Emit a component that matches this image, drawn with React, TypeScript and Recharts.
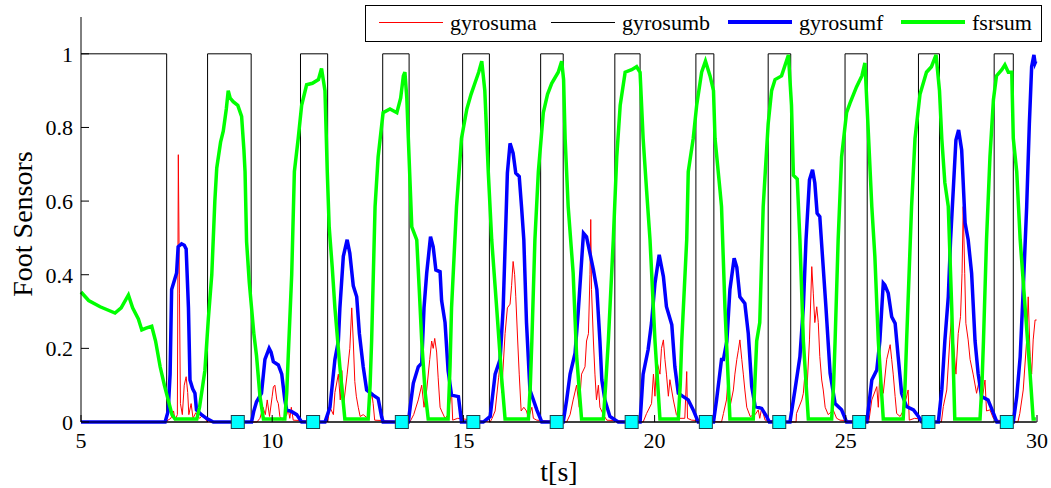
import React from "react";
import { ComposedChart, Line, Scatter, XAxis, YAxis, Legend } from "recharts";

const SERIF = '"Liberation Serif", "Times New Roman", serif';

const timeTicks = [5, 10, 15, 20, 25, 30];
const sensorTicks = [0, 0.2, 0.4, 0.6, 0.8, 1];

// [t, value] pairs
const gyrosuma: [number, number][] = [
  [5, 0], [7.2, 0], [7.35, 0.01], [7.42, 0.03], [7.46, 0.005], [7.52, 0.02], [7.545, 0.726], [7.575, 0.35], [7.6, 0.05],
  [7.65, 0.02], [7.7, 0.1], [7.75, 0.123], [7.79, 0.08], [7.82, 0.02], [7.88, 0.05], [7.93, 0.01], [8.0, 0.025], [8.1, 0.01],
  [8.2, 0.02], [8.3, 0],
  [9.6, 0], [9.68, 0.01], [9.76, 0.04], [9.82, 0.02], [9.87, 0.06], [9.93, 0.015], [10.0, 0.07], [10.03, 0.095], [10.07, 0.1],
  [10.12, 0.06], [10.16, 0.05], [10.2, 0.015], [10.28, 0.005], [10.38, 0.02], [10.42, 0.035], [10.46, 0.01], [10.5, 0.04],
  [10.55, 0.005], [11.45, 0],
  [11.51, 0.04], [11.6, 0.02], [11.64, 0.08], [11.73, 0.13], [11.78, 0.06], [11.82, 0.14], [11.87, 0.05], [11.96, 0.13],
  [12.03, 0.2], [12.08, 0.31], [12.12, 0.22], [12.16, 0.11], [12.2, 0.07], [12.25, 0.04], [12.3, 0.015], [12.38, 0.02],
  [12.5, 0.01], [12.6, 0.08], [12.64, 0.05], [12.68, 0.005], [13.6, 0],
  [13.7, 0.02], [13.82, 0.06], [13.91, 0.1], [13.97, 0.04], [14.04, 0.087], [14.12, 0.17], [14.17, 0.22], [14.21, 0.2],
  [14.25, 0.227], [14.3, 0.19], [14.34, 0.12], [14.39, 0.04], [14.43, 0.03], [14.52, 0.01], [14.6, 0.02], [14.69, 0.083],
  [14.72, 0.005], [14.85, 0.01], [15.7, 0],
  [15.75, 0.01], [15.83, 0.03], [15.92, 0.12], [15.96, 0.16], [16.0, 0.08], [16.09, 0.24], [16.15, 0.31], [16.22, 0.32],
  [16.26, 0.37], [16.3, 0.436], [16.34, 0.4], [16.37, 0.34], [16.42, 0.22], [16.46, 0.13], [16.51, 0.03], [16.58, 0.04],
  [16.65, 0.03], [16.7, 0.01], [16.79, 0.04], [16.83, 0.01], [16.92, 0.005], [17.7, 0],
  [17.79, 0.02], [17.87, 0.06], [17.96, 0.1], [18.03, 0.04], [18.09, 0.13], [18.18, 0.15], [18.22, 0.22], [18.27, 0.24],
  [18.31, 0.4], [18.33, 0.55], [18.35, 0.36], [18.4, 0.22], [18.44, 0.13], [18.48, 0.06], [18.53, 0.1], [18.57, 0.04],
  [18.66, 0.02], [18.75, 0.005], [19.7, 0],
  [19.79, 0.023], [19.92, 0.05], [19.97, 0.13], [20.01, 0.07], [20.05, 0.17], [20.14, 0.13], [20.18, 0.2], [20.23, 0.223],
  [20.27, 0.17], [20.31, 0.13], [20.36, 0.07], [20.4, 0.115], [20.49, 0.06], [20.57, 0.02], [20.66, 0.01], [20.79, 0.01],
  [20.84, 0.137], [20.86, 0.01], [20.97, 0.005], [21.75, 0],
  [21.8, 0.023], [21.88, 0.06], [21.93, 0.13], [21.97, 0.04], [22.06, 0.087], [22.1, 0.13], [22.15, 0.17], [22.19, 0.195],
  [22.23, 0.223], [22.28, 0.17], [22.32, 0.13], [22.36, 0.087], [22.41, 0.04], [22.5, 0.015], [22.63, 0.02], [22.71, 0.033],
  [22.75, 0.01], [22.8, 0.038], [22.89, 0.005], [23.7, 0],
  [23.71, 0.023], [23.85, 0.06], [23.89, 0.078], [23.93, 0.13], [23.99, 0.1], [24.05, 0.223], [24.11, 0.422], [24.15, 0.35],
  [24.19, 0.27], [24.24, 0.313], [24.28, 0.27], [24.32, 0.178], [24.37, 0.114], [24.41, 0.087], [24.46, 0.04], [24.54, 0.02],
  [24.67, 0.033], [24.76, 0.01], [24.85, 0.005], [25.6, 0],
  [25.68, 0.06], [25.81, 0.096], [25.85, 0.04], [25.89, 0.13], [25.98, 0.078], [26.07, 0.17], [26.16, 0.21], [26.2, 0.17],
  [26.24, 0.13], [26.29, 0.069], [26.33, 0.023], [26.42, 0.015], [26.5, 0.03], [26.63, 0.087], [26.66, 0.005], [26.8, 0.01],
  [27.5, 0],
  [27.55, 0.042], [27.64, 0.087], [27.72, 0.223], [27.77, 0.295], [27.81, 0.223], [27.88, 0.13], [27.94, 0.24], [28.0, 0.286],
  [28.04, 0.404], [28.07, 0.585], [28.11, 0.404], [28.14, 0.268], [28.2, 0.223], [28.25, 0.17], [28.33, 0.13], [28.42, 0.078],
  [28.51, 0.123], [28.55, 0.05], [28.64, 0.114], [28.68, 0.03], [28.77, 0.033], [28.86, 0.01], [28.95, 0.005], [29.5, 0],
  [29.55, 0.023], [29.64, 0.087], [29.73, 0.223], [29.77, 0.34], [29.82, 0.178], [29.86, 0.13], [29.9, 0.223], [29.95, 0.277],
  [29.99, 0.277],
];

const gyrosumb: [number, number][] = [
  [5, 1], [7.24, 1], [7.24, 0], [8.31, 0], [8.31, 1], [9.45, 1], [9.45, 0], [10.74, 0], [10.74, 1], [11.45, 1], [11.45, 0],
  [12.89, 0], [12.89, 1], [13.58, 1], [13.58, 0], [14.98, 0], [14.98, 1], [15.68, 1], [15.68, 0], [17.02, 0], [17.02, 1],
  [17.61, 1], [17.61, 0], [18.96, 0], [18.96, 1], [19.62, 1], [19.62, 0], [21.08, 0], [21.08, 1], [21.55, 1], [21.55, 0],
  [22.97, 0], [22.97, 1], [23.56, 1], [23.56, 0], [24.98, 0], [24.98, 1], [25.56, 1], [25.56, 0], [26.9, 0], [26.9, 1],
  [27.45, 1], [27.45, 0], [28.88, 0], [28.88, 1], [29.38, 1], [29.38, 0], [29.97, 0],
];

const gyrosumf: [number, number][] = [
  [5, 0], [7.2, 0], [7.28, 0.03], [7.33, 0.13], [7.37, 0.36], [7.5, 0.405], [7.54, 0.476], [7.63, 0.484], [7.7, 0.48],
  [7.75, 0.47], [7.81, 0.31], [7.85, 0.114], [7.92, 0.09], [7.98, 0.078], [8.02, 0.033], [8.15, 0.02], [8.28, 0.01],
  [8.46, 0], [9.46, 0], [9.52, 0.03], [9.59, 0.055], [9.72, 0.078], [9.81, 0.17], [9.92, 0.2], [9.97, 0.19], [10.03, 0.164],
  [10.16, 0.155], [10.25, 0.13], [10.33, 0.06], [10.38, 0.033], [10.51, 0.028], [10.64, 0.02], [10.77, 0], [11.38, 0],
  [11.51, 0.04], [11.64, 0.17], [11.73, 0.22], [11.77, 0.31], [11.86, 0.45], [11.96, 0.495], [12.03, 0.458], [12.12, 0.37],
  [12.21, 0.34], [12.28, 0.24], [12.38, 0.15], [12.47, 0.087], [12.64, 0.073], [12.77, 0.064], [12.86, 0.015], [12.9, 0],
  [13.56, 0], [13.62, 0.05], [13.69, 0.105], [13.82, 0.15], [13.91, 0.16], [13.97, 0.31], [14.04, 0.404], [14.14, 0.503],
  [14.21, 0.476], [14.28, 0.413], [14.39, 0.408], [14.43, 0.33], [14.52, 0.27], [14.6, 0.14], [14.69, 0.073], [14.87, 0.069],
  [14.95, 0], [15.52, 0], [15.7, 0.015], [15.83, 0.13], [15.96, 0.17], [16.04, 0.31], [16.11, 0.54], [16.15, 0.676],
  [16.22, 0.757], [16.3, 0.73], [16.37, 0.676], [16.46, 0.667], [16.52, 0.585], [16.58, 0.495], [16.65, 0.27], [16.74, 0.087],
  [16.83, 0.06], [16.92, 0.033], [17.05, 0], [17.61, 0], [17.7, 0.06], [17.79, 0.13], [17.92, 0.187], [18.0, 0.295],
  [18.07, 0.404], [18.14, 0.513], [18.22, 0.503], [18.31, 0.458], [18.4, 0.413], [18.49, 0.36], [18.57, 0.22], [18.62, 0.114],
  [18.7, 0.06], [18.83, 0.015], [19.05, 0], [19.62, 0], [19.7, 0.13], [19.83, 0.196], [19.92, 0.27], [20.01, 0.377],
  [20.12, 0.454], [20.23, 0.395], [20.31, 0.313], [20.45, 0.264], [20.53, 0.15], [20.62, 0.078], [20.75, 0.069], [20.88, 0.06],
  [21.01, 0.033], [21.14, 0], [21.54, 0], [21.62, 0.06], [21.75, 0.17], [21.8, 0.17], [21.89, 0.22], [21.97, 0.36],
  [22.08, 0.445], [22.15, 0.42], [22.23, 0.34], [22.36, 0.322], [22.45, 0.24], [22.54, 0.096], [22.63, 0.042], [22.8, 0.037],
  [22.93, 0.015], [23.0, 0], [23.54, 0], [23.67, 0.087], [23.8, 0.177], [23.89, 0.313], [23.96, 0.495], [24.05, 0.658],
  [24.13, 0.685], [24.19, 0.649], [24.25, 0.567], [24.32, 0.558], [24.39, 0.45], [24.48, 0.313], [24.59, 0.132], [24.72, 0.05],
  [24.89, 0.033], [25.02, 0], [25.55, 0], [25.68, 0.114], [25.81, 0.141], [25.89, 0.22], [25.98, 0.377], [26.02, 0.372],
  [26.11, 0.35], [26.2, 0.286], [26.29, 0.268], [26.37, 0.177], [26.46, 0.078], [26.59, 0.042], [26.77, 0.033], [26.9, 0.015],
  [26.99, 0], [27.42, 0], [27.51, 0.087], [27.59, 0.22], [27.68, 0.34], [27.74, 0.495], [27.81, 0.63], [27.88, 0.766],
  [27.95, 0.793], [28.03, 0.739], [28.12, 0.54], [28.2, 0.495], [28.29, 0.404], [28.38, 0.22], [28.46, 0.132], [28.55, 0.069],
  [28.72, 0.06], [28.86, 0.024], [28.95, 0], [29.38, 0], [29.47, 0.069], [29.56, 0.177], [29.64, 0.36], [29.73, 0.585],
  [29.8, 0.81], [29.86, 0.965], [29.92, 0.997], [29.95, 0.975], [29.97, 0.98],
];

const fsrsum: [number, number][] = [
  [5.0, 0.353], [5.2, 0.33], [5.5, 0.313], [5.89, 0.296], [6.05, 0.31], [6.24, 0.345], [6.35, 0.31], [6.5, 0.28], [6.59, 0.25],
  [6.7, 0.255], [6.85, 0.26], [6.95, 0.22], [7.07, 0.15], [7.18, 0.1], [7.28, 0.06], [7.38, 0.02], [7.46, 0.008], [8.03, 0.008],
  [8.1, 0.04], [8.24, 0.14], [8.33, 0.28], [8.42, 0.4], [8.5, 0.6], [8.55, 0.69], [8.65, 0.76], [8.72, 0.79], [8.8, 0.85],
  [8.85, 0.9], [8.9, 0.88], [8.98, 0.87], [9.1, 0.86], [9.2, 0.83], [9.26, 0.74], [9.29, 0.68], [9.33, 0.49], [9.4, 0.38],
  [9.46, 0.31], [9.52, 0.24], [9.59, 0.18], [9.68, 0.07], [9.77, 0.008], [10.33, 0.008], [10.38, 0.08], [10.42, 0.18],
  [10.51, 0.4], [10.58, 0.68], [10.68, 0.77], [10.77, 0.86], [10.9, 0.916], [11.05, 0.92], [11.21, 0.93], [11.29, 0.96],
  [11.38, 0.9], [11.44, 0.68], [11.49, 0.53], [11.57, 0.42], [11.64, 0.31], [11.77, 0.15], [11.9, 0.008], [12.51, 0.008],
  [12.56, 0.1], [12.6, 0.22], [12.69, 0.585], [12.77, 0.72], [12.9, 0.84], [13.08, 0.85], [13.26, 0.84], [13.36, 0.88],
  [13.43, 0.94], [13.47, 0.95], [13.52, 0.88], [13.56, 0.77], [13.65, 0.53], [13.78, 0.495], [13.85, 0.35], [13.91, 0.22],
  [14.0, 0.08], [14.08, 0.008], [14.6, 0.008], [14.65, 0.15], [14.69, 0.31], [14.82, 0.585], [14.95, 0.77], [15.09, 0.85],
  [15.2, 0.89], [15.3, 0.92], [15.4, 0.95], [15.48, 0.98], [15.56, 0.9], [15.65, 0.68], [15.74, 0.495], [15.87, 0.31],
  [16.0, 0.12], [16.09, 0.008], [16.7, 0.008], [16.75, 0.1], [16.79, 0.22], [16.87, 0.495], [16.96, 0.68], [17.09, 0.84],
  [17.2, 0.89], [17.31, 0.92], [17.48, 0.95], [17.57, 0.98], [17.62, 0.93], [17.66, 0.77], [17.74, 0.585], [17.87, 0.405],
  [17.96, 0.18], [18.09, 0.008], [18.66, 0.008], [18.72, 0.1], [18.79, 0.22], [18.92, 0.495], [19.01, 0.72], [19.1, 0.86],
  [19.23, 0.95], [19.4, 0.957], [19.53, 0.965], [19.62, 0.95], [19.7, 0.77], [19.79, 0.63], [19.88, 0.495], [20.01, 0.22],
  [20.14, 0.008], [20.62, 0.008], [20.67, 0.1], [20.71, 0.22], [20.84, 0.495], [20.88, 0.68], [21.01, 0.77], [21.1, 0.86],
  [21.23, 0.95], [21.33, 0.98], [21.45, 0.94], [21.54, 0.9], [21.58, 0.77], [21.71, 0.63], [21.75, 0.585], [21.84, 0.31],
  [21.97, 0.008], [22.58, 0.008], [22.62, 0.1], [22.67, 0.22], [22.75, 0.27], [22.84, 0.585], [22.97, 0.81], [23.06, 0.9],
  [23.15, 0.93], [23.32, 0.94], [23.5, 0.997], [23.58, 0.86], [23.63, 0.67], [23.73, 0.66], [23.8, 0.495], [23.89, 0.22],
  [24.02, 0.008], [24.63, 0.008], [24.68, 0.1], [24.72, 0.22], [24.8, 0.495], [24.89, 0.72], [25.02, 0.84], [25.11, 0.866],
  [25.28, 0.91], [25.42, 0.94], [25.5, 0.975], [25.59, 0.785], [25.68, 0.585], [25.76, 0.45], [25.85, 0.22], [25.98, 0.008],
  [26.5, 0.008], [26.55, 0.1], [26.59, 0.22], [26.72, 0.585], [26.81, 0.77], [26.94, 0.89], [27.11, 0.95], [27.24, 0.965],
  [27.36, 0.997], [27.45, 0.9], [27.51, 0.77], [27.59, 0.65], [27.68, 0.585], [27.77, 0.31], [27.85, 0.008], [28.51, 0.008],
  [28.56, 0.1], [28.6, 0.22], [28.68, 0.495], [28.77, 0.72], [28.86, 0.875], [28.94, 0.94], [29.08, 0.957], [29.16, 0.97],
  [29.25, 0.95], [29.34, 0.95], [29.38, 0.77], [29.47, 0.68], [29.56, 0.495], [29.69, 0.31], [29.82, 0.13], [29.9, 0.008],
  [29.97, 0.008],
];

// cyan step markers sitting on the time axis
const stepTimes = [9.1, 11.07, 13.39, 15.26, 17.44, 19.4, 21.34, 23.26, 25.35, 27.16, 29.21];

const toRows = (pts: [number, number][]) => pts.map(([t, v]) => ({ t, v }));

const legendItems = [
  { name: "gyrosuma", color: "#ff0000", w: 1, left: 13 },
  { name: "gyrosumb", color: "#000000", w: 1, left: 185 },
  { name: "gyrosumf", color: "#0000ff", w: 3.5, left: 362 },
  { name: "fsrsum", color: "#00ff00", w: 3.5, left: 535 },
];

const renderLegend = () => (
  <div
    style={{
      position: "relative",
      width: 675,
      height: 35,
      border: "1.5px solid #000",
      background: "#fff",
      fontFamily: SERIF,
      fontSize: 22,
      color: "#000",
    }}
  >
    {legendItems.map((it) => (
      <React.Fragment key={it.name}>
        <div
          style={{
            position: "absolute",
            left: it.left,
            top: 16 - it.w / 2,
            width: 64,
            height: it.w,
            background: it.color,
          }}
        />
        <span style={{ position: "absolute", left: it.left + 71, top: 6, lineHeight: "22px", whiteSpace: "nowrap" }}>
          {it.name}
        </span>
      </React.Fragment>
    ))}
  </div>
);

const YTitle = () => (
  <text
    x={32}
    y={224}
    transform="rotate(-90 32 224)"
    textAnchor="middle"
    fontFamily={SERIF}
    fontSize={28}
    fill="#000"
  >
    Foot Sensors
  </text>
);

const XTitle = () => (
  <text x={559} y={481} textAnchor="middle" fontFamily={SERIF} fontSize={28} fill="#000">
    t[s]
  </text>
);

const TimeTick = (props: any) => {
  const { x, y, payload } = props;
  return (
    <text x={x} y={y} dy="0.71em" textAnchor="middle" fontFamily={SERIF} fontSize={22} fill="#000">
      {payload.value}
    </text>
  );
};

const SensorTick = (props: any) => {
  const { x, y, payload } = props;
  return (
    <text x={x} y={y} dy="0.355em" textAnchor="end" fontFamily={SERIF} fontSize={22} fill="#000">
      {payload.value}
    </text>
  );
};

const StepMarker = (props: any) => {
  const { cx, cy } = props;
  return <rect x={cx - 6.5} y={cy - 6.5} width={13} height={13} fill="#00ffff" stroke="#1f3f4a" strokeWidth={1} />;
};

export default function App() {
  return (
    <div style={{ position: "absolute", left: 0, top: 0, background: "#fff", fontFamily: SERIF }}>
      <ComposedChart width={1051} height={488} margin={{ top: 17, right: 14, bottom: 0, left: 0 }}>
        <XAxis
          type="number"
          dataKey="t"
          domain={[5, 30]}
          ticks={timeTicks}
          interval={0}
          height={66}
          tickSize={-7}
          tickMargin={17}
          tick={<TimeTick />}
          tickLine={{ stroke: "#000" }}
          axisLine={{ stroke: "#000" }}
          label={<XTitle />}
        />
        <YAxis
          type="number"
          domain={[0, 1.1]}
          ticks={sensorTicks}
          interval={0}
          width={81}
          tickSize={-8}
          tickMargin={16}
          tick={<SensorTick />}
          tickLine={{ stroke: "#000" }}
          axisLine={{ stroke: "#000" }}
          label={<YTitle />}
        />
        <Legend
          content={renderLegend}
          layout="horizontal"
          align="center"
          verticalAlign="middle"
          wrapperStyle={{ left: 365, top: 5, width: 678, height: 38 }}
        />
        <Line data={toRows(gyrosuma)} dataKey="v" name="gyrosuma" stroke="#ff0000" strokeWidth={1} dot={false} activeDot={false} isAnimationActive={false} />
        <Line data={toRows(gyrosumb)} dataKey="v" name="gyrosumb" stroke="#000000" strokeWidth={1} dot={false} activeDot={false} isAnimationActive={false} />
        <Line data={toRows(gyrosumf)} dataKey="v" name="gyrosumf" stroke="#0000ff" strokeWidth={3.5} dot={false} activeDot={false} isAnimationActive={false} />
        <Line data={toRows(fsrsum)} dataKey="v" name="fsrsum" stroke="#00ff00" strokeWidth={3.5} dot={false} activeDot={false} isAnimationActive={false} />
        <Scatter
          data={stepTimes.map((t) => ({ t, v: 0 }))}
          dataKey="v"
          shape={<StepMarker />}
          isAnimationActive={false}
        />
      </ComposedChart>
    </div>
  );
}
